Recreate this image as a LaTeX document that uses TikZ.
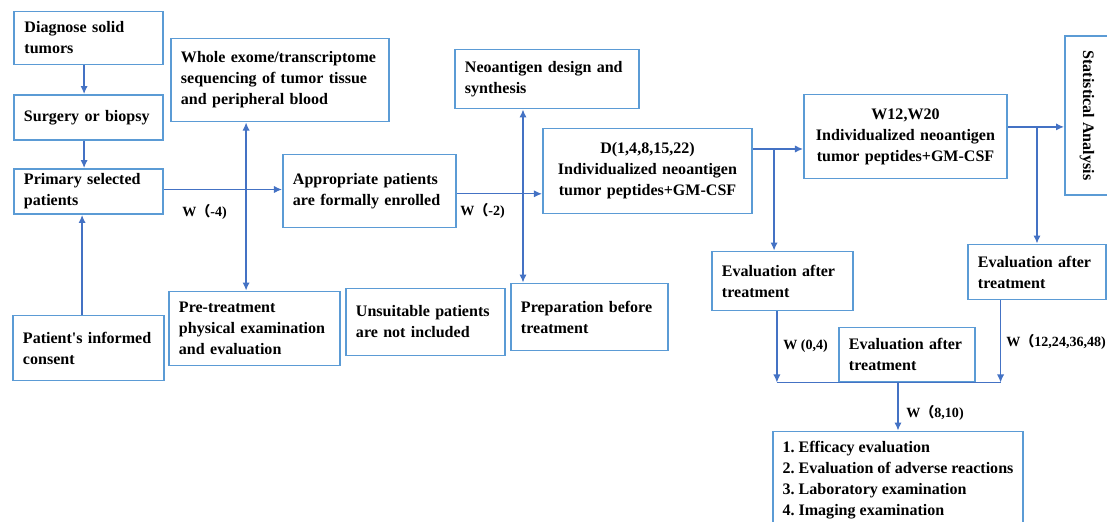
\documentclass[tikz,border=0pt]{standalone}
\usepackage{fontspec}
\setmainfont{Liberation Serif}
\newfontfamily\cjkfont{Noto Sans CJK SC}
\usetikzlibrary{arrows.meta}
\definecolor{boxblue}{RGB}{91,155,213}
\definecolor{lineblue}{RGB}{68,114,196}
\tikzset{
 stepbox/.style={
 rectangle,
 draw=boxblue, line width=1.4pt,
 inner xsep=0.25cm,
 align=left,
 font=\bfseries\frenchspacing\fontsize{11.4}{14.9}\selectfont},
 dosebox/.style={
 stepbox,
 align=center},
 link/.style={
 draw=lineblue, line width=0.9pt,
 -{Latex[length=2mm,width=1.8mm]}},
 both/.style={
 link,
 {Latex[length=2mm,width=1.8mm]}-{Latex[length=2mm,width=1.8mm]}},
 weeklabel/.style={
 inner sep=0pt, anchor=west,
 font=\bfseries\fontsize{10}{12}\selectfont}
}

\begin{document}
\begin{tikzpicture}[x=0.025cm, y=-0.025cm]
 \useasboundingbox (0,0) rectangle (1107,521);
 \clip (0,0) rectangle (1107,521);

 \node[stepbox, text width=3.2cm, minimum height=1.325cm] (diag) at (88.5,38) {Diagnose solid\\tumors};
 \node[stepbox, text width=3.225cm, minimum height=1.125cm] (surg) at (88.5,117.5) {Surgery or biopsy};
 \node[stepbox, text width=3.225cm, minimum height=1.125cm] (prim) at (88.5,191.5) {Primary selected\\patients};
 \node[stepbox, text width=3.275cm, minimum height=1.625cm] (cons) at (88.5,348) {Patient\textquotesingle s informed\\consent};

 \node[stepbox, text width=4.95cm, minimum height=2.075cm] (wes) at (280,80) {Whole exome/transcriptome\\sequencing of tumor tissue\\and peripheral blood};
 \node[stepbox, text width=3.775cm, minimum height=1.85cm] (pre) at (254.5,328.5) {Pre-treatment\\physical examination\\and evaluation};
 \node[stepbox, text width=3.825cm, minimum height=1.825cm] (appr) at (369.5,191) {Appropriate patients\\are formally enrolled};
 \node[stepbox, text width=3.475cm, minimum height=1.675cm] (unsu) at (425.5,322) {Unsuitable patients\\are not included};

 \node[stepbox, text width=4.1cm, minimum height=1.475cm] (neo) at (547,79) {Neoantigen design and\\synthesis};
 \node[stepbox, text width=3.425cm, minimum height=1.675cm] (prep) at (589.5,317) {Preparation before\\treatment};
 \node[dosebox, text width=4.725cm, minimum height=2.125cm] (dbox) at (647.5,171) {D(1,4,8,15,22)\\Individualized neoantigen\\tumor peptides+GM-CSF};
 \node[dosebox, text width=4.575cm, minimum height=2.1cm] (wbox) at (905.5,136.5) {W12,W20\\Individualized neoantigen\\tumor peptides+GM-CSF};
 \node[stepbox, rotate=-90, minimum width=3.975cm, minimum height=1.1cm] (stat) at (1087,115.5) {Statistical Analysis};

 \node[stepbox, text width=3.025cm, minimum height=1.475cm] (evl) at (782.5,281) {Evaluation after\\treatment};
 \node[stepbox, text width=2.95cm, minimum height=1.375cm] (evr) at (1037,272) {Evaluation after\\treatment};
 \node[stepbox, text width=2.9cm, minimum height=1.35cm] (evm) at (907,354.5) {Evaluation after\\treatment};
 \node[stepbox, minimum width=6.25cm, minimum height=2.425cm] (res) at (898,480) {1. Efficacy evaluation\\2. Evaluation of adverse reactions\\3. Laboratory examination\\4. Imaging examination};

 % time labels
 \node[weeklabel] (lw4) at (182,212) {W{\cjkfont （}-4)};
 \node[weeklabel] (lw2) at (460,211) {W{\cjkfont （}-2)};
 \node[weeklabel] (lw04) at (783,346) {W (0,4)};
 \node[weeklabel] (lw12) at (1006,342) {W{\cjkfont （}12,24,36,48)};
 \node[weeklabel] (lw810) at (906,413) {W{\cjkfont （}8,10)};

 % left column
 \draw[link] ([xshift=-0.11cm]diag.south) -- ([xshift=-0.11cm]surg.north);
 \draw[link] ([xshift=-0.11cm]surg.south) -- ([xshift=-0.11cm]prim.north);
 \coordinate (c1) at ([xshift=-0.16cm]cons.north);
 \draw[link] (c1) -- (c1 |- prim.south);

 % enrolment
 \coordinate (p1) at ([yshift=0.05cm]prim.east);
 \draw[link] (p1) -- (p1 -| appr.west);
 \coordinate (p2) at ([xshift=-0.21cm]pre.north);
 \draw[both] (p2) -- (p2 |- wes.south);
 \coordinate (a1) at ([yshift=-0.07cm]appr.east);
 \draw[link] (a1) -- (a1 -| dbox.west);
 \coordinate (n1) at ([xshift=-0.6cm]neo.south);
 \draw[both] (n1 |- prep.north) -- (n1);

 % treatment
 \coordinate (d1) at ([yshift=0.55cm]dbox.east);
 \draw[link] (d1) -- (d1 -| wbox.west);
 \coordinate (v1) at ([xshift=-0.21cm]evl.north);
 \draw[link] (d1 -| v1) -- (v1);
 \coordinate (w1) at ([yshift=0.24cm]wbox.east);
 \draw[link] (w1) -- (w1 -| stat.south);
 \draw[link] (w1 -| evr.north) -- (evr.north);

 % evaluation
 \coordinate (v2) at ([xshift=-0.14cm]evl.south);
 \coordinate (v3) at ([xshift=-0.91cm]evr.south);
 \draw[link] (v2) -- (v2 |- evm.south);
 \draw[link] (v3) -- (v3 |- evm.south);
 \draw[link, -] (v2 |- evm.south) -- (v3 |- evm.south);
 \draw[link] (res.north |- evm.south) -- (res.north);
\end{tikzpicture}
\end{document}
